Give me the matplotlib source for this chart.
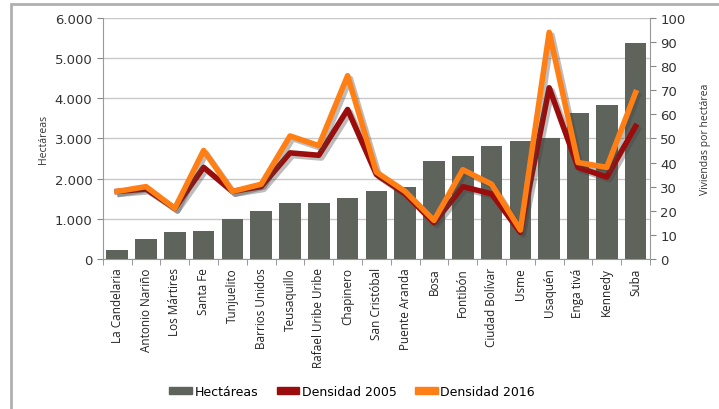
import numpy as np
import matplotlib.pyplot as plt
import matplotlib.patheffects as pe
from matplotlib.patches import Rectangle, Patch

localidades = ["La Candelaria", "Antonio Nariño", "Los Mártires", "Santa Fe", "Tunjuelito",
               "Barrios Unidos", "Teusaquillo", "Rafael Uribe Uribe", "Chapinero", "San Cristóbal",
               "Puente Aranda", "Bosa", "Fontibón", "Ciudad Bolívar", "Usme", "Usaquén",
               "Enga tivá", "Kennedy", "Suba"]
hectareas = [220, 500, 680, 700, 1000, 1200, 1380, 1380, 1520, 1680,
             1780, 2430, 2570, 2820, 2930, 3020, 3620, 3840, 5380]
dens_2005 = [28, 29, 21, 38, 28, 30, 44, 43, 62, 35, 27, 15, 30, 27, 11, 71, 38, 34, 55]
dens_2016 = [28, 30, 21, 45, 28, 31, 51, 47, 76, 36, 28, 16, 37, 31, 12, 94, 40, 38, 69]

c_bar = '#5e635b'
c_05 = '#9b0d0d'
c_16 = '#ff7f14'

plt.rcParams['font.family'] = ['DejaVu Sans']
fig = plt.figure(figsize=(7.19, 4.10), dpi=100)
fig.patches.append(Rectangle((0.015, -0.05), 1.2, 1.038, transform=fig.transFigure,
                             fill=False, edgecolor='#b0b0b0', linewidth=2))

ax = fig.add_axes([0.143, 0.366, 0.761, 0.588])
x = np.arange(len(localidades))
ax.bar(x, hectareas, width=0.75, color=c_bar, zorder=2)
ax.set_ylim(0, 6000)
ax.set_xlim(-0.5, len(localidades) - 0.5)
ax.set_yticks(range(0, 6001, 1000))
ax.set_yticklabels(['0', '1.000', '2.000', '3.000', '4.000', '5.000', '6.000'], fontsize=9.5, color='#333333')
ax.yaxis.grid(True, color='#c8c8c8', linewidth=1, zorder=0)
ax.set_axisbelow(True)
ax.set_xticks(x)
ax.set_xticklabels(localidades, rotation=90, fontsize=8.5, color='#222222', family='Open Sans')
ax.tick_params(axis='x', length=0, pad=6)
ax.set_xticks(np.arange(-0.5, len(localidades), 1), minor=True)
ax.tick_params(axis='x', which='minor', length=4, color='#888888')
ax.tick_params(axis='y', length=4, color='#888888')
ax.set_ylabel('Hectáreas', fontsize=7.5, color='#333333', labelpad=4, family='Open Sans')
for s in ['top', 'right']:
    ax.spines[s].set_visible(False)
for s in ['left', 'bottom']:
    ax.spines[s].set_color('#999999')

ax2 = ax.twinx()
shadow = [pe.SimpleLineShadow(offset=(2, -2), alpha=0.35, shadow_color='#444444'), pe.Normal()]
ax2.plot(x, dens_2005, color=c_05, linewidth=4, path_effects=shadow, zorder=3)
ax2.plot(x, dens_2016, color=c_16, linewidth=4, path_effects=shadow, zorder=4)
ax2.set_ylim(0, 100)
ax2.set_yticks(range(0, 101, 10))
ax2.tick_params(axis='y', labelsize=9.5, labelcolor='#333333', length=4, color='#888888')
ax2.set_ylabel('Viviendas por hectárea', fontsize=7.5, color='#333333', labelpad=10, family='Open Sans')
for s in ['top', 'left', 'bottom']:
    ax2.spines[s].set_visible(False)
ax2.spines['right'].set_color('#999999')

handles = [Patch(color=c_bar), Patch(color=c_05), Patch(color=c_16)]
fig.legend(handles, ['Hectáreas', 'Densidad 2005', 'Densidad 2016'], loc='center',
           bbox_to_anchor=(0.49, 0.042), ncol=3, frameon=False, fontsize=9,
           handlelength=1.8, handleheight=0.5, columnspacing=1.5, handletextpad=0.2)

plt.savefig('out.png', dpi=100)
